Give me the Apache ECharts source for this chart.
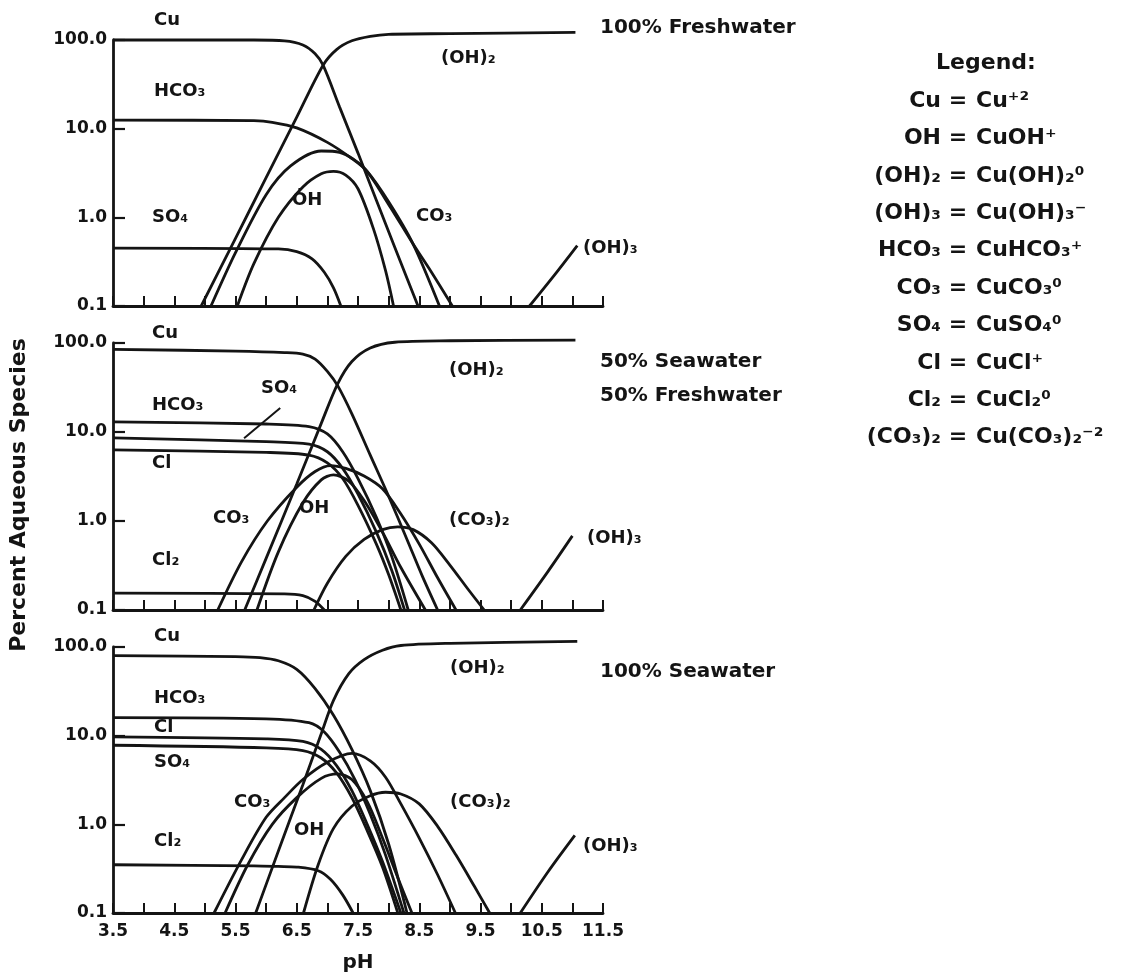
<!DOCTYPE html>
<html>
<head>
<meta charset="utf-8">
<script src="https://cdn.jsdelivr.net/npm/echarts/dist/echarts.min.js"></script>
<style>
html,body{margin:0;padding:0;background:#ffffff;}
#chart{width:1123px;height:979px;}
</style>
</head>
<body>
<div id="chart"></div>
<script>
// ---------- tick labels ----------
const X_LABELS = ['3.5','4.5','5.5','6.5','7.5','8.5','9.5','10.5','11.5'];
const Y_LABELS = ['0.1','1.0','10.0','100.0'];

// ---------- Panel 1: 100% Freshwater  [pH, percent] ----------
const FW_CU   = [[3.5,100],[5.8,100],[6.3,98],[6.6,88],[6.8,70],[6.93,52],[7.2,17.5],[7.5,5.3],[7.8,1.56],[8.1,0.46],[8.48,0.1]];
const FW_OH2  = [[4.94,0.1],[5.5,0.58],[6.0,2.8],[6.5,13.5],[6.93,52],[7.15,78],[7.4,98],[7.7,110],[8.0,116],[9.0,118],[11.05,122]];
const FW_HCO3 = [[3.5,12.5],[5.8,12.3],[6.1,11.8],[6.5,10.2],[7.0,7],[7.4,4.6],[7.65,3.3],[8.0,1.5],[8.4,0.5],[8.83,0.1]];
const FW_CO3  = [[5.1,0.1],[5.5,0.4],[6.0,1.8],[6.4,3.8],[6.9,5.6],[7.2,5.4],[7.6,3.6],[8.0,1.4],[8.4,0.5],[8.7,0.24],[9.04,0.1]];
const FW_OH   = [[5.53,0.1],[5.8,0.3],[6.2,1.0],[6.6,2.2],[6.9,3.1],[7.1,3.3],[7.3,3.0],[7.5,2.1],[7.75,0.75],[7.95,0.25],[8.08,0.1]];
const FW_SO4  = [[3.5,0.45],[6.2,0.44],[6.5,0.41],[6.75,0.34],[6.95,0.24],[7.1,0.16],[7.22,0.1]];
const FW_OH3  = [[10.3,0.1],[10.7,0.22],[11.08,0.48]];

// ---------- Panel 2: 50% Seawater / 50% Freshwater ----------
const MX_CU   = [[3.5,85],[5.5,81],[6.3,78],[6.6,75],[6.8,66],[7.0,48],[7.17,33],[7.4,16],[7.7,5.5],[8.0,1.9],[8.3,0.62],[8.55,0.24],[8.8,0.1]];
const MX_OH2  = [[5.65,0.1],[6.0,0.38],[6.5,2.6],[6.9,12.5],[7.17,35],[7.4,62],[7.7,88],[8.1,102],[9.0,106],[11.05,108]];
const MX_HCO3 = [[3.5,13],[6.0,12.3],[6.7,11.5],[7.0,9.5],[7.25,6],[7.5,3],[7.8,1.1],[8.05,0.4],[8.32,0.1]];
const MX_SO4  = [[3.5,8.6],[6.0,7.8],[6.7,7.3],[7.0,6],[7.25,3.9],[7.5,2],[7.8,0.75],[8.05,0.28],[8.26,0.1]];
const MX_CL   = [[3.5,6.3],[6.0,5.9],[6.7,5.5],[7.0,4.5],[7.25,3.0],[7.5,1.5],[7.8,0.55],[8.0,0.25],[8.2,0.1]];
const MX_CO3  = [[5.21,0.1],[5.6,0.35],[6.02,1.0],[6.5,2.4],[6.8,3.6],[7.05,4.2],[7.3,3.9],[7.6,3.2],[7.9,2.3],[8.2,1.2],[8.5,0.55],[8.8,0.23],[9.1,0.1]];
const MX_OH   = [[5.85,0.1],[6.2,0.45],[6.6,1.6],[6.9,2.9],[7.1,3.3],[7.35,2.8],[7.6,1.7],[7.9,0.75],[8.2,0.3],[8.6,0.1]];
const MX_CL2  = [[3.5,0.155],[6.3,0.152],[6.6,0.145],[6.8,0.125],[6.95,0.1]];
const MX_CO32 = [[6.78,0.1],[7.0,0.2],[7.3,0.4],[7.6,0.62],[7.9,0.8],[8.15,0.86],[8.4,0.8],[8.7,0.57],[9.0,0.32],[9.3,0.17],[9.56,0.1]];
const MX_OH3  = [[10.15,0.1],[10.6,0.27],[11.0,0.68]];

// ---------- Panel 3: 100% Seawater ----------
const SW_CU   = [[3.5,80],[5.5,78],[5.9,76],[6.2,70],[6.5,56],[6.8,34],[7.1,17],[7.4,7],[7.7,2.4],[8.0,0.6],[8.3,0.1]];
const SW_OH2  = [[5.83,0.1],[6.2,0.5],[6.6,2.8],[6.9,10.5],[7.1,25],[7.35,50],[7.6,72],[7.9,92],[8.2,104],[9.0,110],[11.08,116]];
const SW_HCO3 = [[3.5,16],[6.0,15.5],[6.7,14],[6.95,11],[7.2,6.5],[7.45,3.2],[7.7,1.3],[7.95,0.45],[8.25,0.1]];
const SW_CL   = [[3.5,9.7],[6.0,9.2],[6.6,8.6],[6.9,7],[7.15,4.6],[7.4,2.4],[7.65,1.0],[7.9,0.38],[8.2,0.1]];
const SW_SO4  = [[3.5,7.8],[6.0,7.3],[6.6,6.8],[6.9,5.6],[7.15,3.8],[7.4,2.0],[7.65,0.85],[7.9,0.33],[8.15,0.1]];
const SW_CO3  = [[5.15,0.1],[5.6,0.4],[6.0,1.2],[6.3,2.0],[6.6,3.2],[7.0,5.0],[7.4,6.3],[7.7,5.2],[7.95,3.4],[8.2,1.7],[8.5,0.7],[8.8,0.27],[9.09,0.1]];
const SW_OH   = [[5.33,0.1],[5.7,0.35],[6.1,1.0],[6.5,2.0],[6.9,3.3],[7.17,3.7],[7.4,3.2],[7.65,1.8],[7.9,0.7],[8.15,0.25],[8.38,0.1]];
const SW_CL2  = [[3.5,0.35],[5.8,0.34],[6.2,0.335],[6.5,0.33],[6.85,0.3],[7.05,0.24],[7.25,0.16],[7.42,0.1]];
const SW_CO32 = [[6.61,0.1],[6.85,0.35],[7.1,0.9],[7.4,1.6],[7.7,2.1],[7.95,2.3],[8.2,2.2],[8.5,1.7],[8.8,0.95],[9.1,0.45],[9.4,0.2],[9.65,0.1]];
const SW_OH3  = [[10.15,0.1],[10.6,0.29],[11.04,0.75]];

// leader line pointing to SO4 in panel 2 (data coords)
const MX_SO4_LEADER = [[6.23,18.6],[5.64,8.5]];

// ---------- legend text ----------
const LEGEND_LEFT  = ['Cu','OH','(OH)₂','(OH)₃','HCO₃','CO₃','SO₄','Cl','Cl₂','(CO₃)₂'];
const LEGEND_RIGHT = ['Cu⁺²','CuOH⁺','Cu(OH)₂⁰','Cu(OH)₃⁻','CuHCO₃⁺','CuCO₃⁰','CuSO₄⁰','CuCl⁺','CuCl₂⁰','Cu(CO₃)₂⁻²'];

const PANELS = [
  [FW_CU, FW_OH2, FW_HCO3, FW_CO3, FW_OH, FW_SO4, FW_OH3],
  [MX_CU, MX_OH2, MX_HCO3, MX_SO4, MX_CL, MX_CO3, MX_OH, MX_CL2, MX_CO32, MX_OH3],
  [SW_CU, SW_OH2, SW_HCO3, SW_CL, SW_SO4, SW_CO3, SW_OH, SW_CL2, SW_CO32, SW_OH3]
];

// ---------- layout / style ----------
const FONT = 'DejaVu Sans';
const INK = '#141414';
const GRID_BOXES = [
  {top: 40,  height: 266},
  {top: 343, height: 267},
  {top: 647, height: 266}
];
const PLOT_LEFT = 113, PLOT_WIDTH = 490;

const chart = echarts.init(document.getElementById('chart'), null, {renderer: 'canvas'});

const grids = GRID_BOXES.map(g => ({
  left: PLOT_LEFT, width: PLOT_WIDTH, top: g.top, height: g.height,
  containLabel: false, outerBoundsMode: 'none'
}));

const xAxes = GRID_BOXES.map((g, i) => ({
  type: 'value', gridIndex: i, min: 3.5, max: 11.5, interval: 0.5,
  axisLine: {show: true, lineStyle: {color: INK, width: 2.8}},
  axisTick: {show: true, inside: true, length: 10, lineStyle: {color: INK, width: 2}},
  splitLine: {show: false},
  axisLabel: {
    show: i === 2, margin: 10, color: INK, fontFamily: FONT, fontWeight: 'bold', fontSize: 17,
    formatter: v => { const s = (Math.round(v * 10) / 10).toFixed(1); return X_LABELS.indexOf(s) >= 0 ? s : ''; }
  },
  name: i === 2 ? 'pH' : '', nameLocation: 'middle', nameGap: 40,
  nameTextStyle: {color: INK, fontFamily: FONT, fontWeight: 'bold', fontSize: 20}
}));

const yAxes = GRID_BOXES.map((g, i) => ({
  type: 'log', logBase: 10, gridIndex: i, min: 0.1, max: 100,
  axisLine: {show: true, lineStyle: {color: INK, width: 2.8}},
  axisTick: {show: true, inside: true, length: 12, lineStyle: {color: INK, width: 2.2}},
  splitLine: {show: false},
  minorTick: {show: false},
  axisLabel: {
    show: true, margin: 6, color: INK, fontFamily: FONT, fontWeight: 'bold', fontSize: 17,
    formatter: v => { const p = Math.round(Math.log10(v)) + 1; return Y_LABELS[p] || ''; }
  }
}));

const series = [];
PANELS.forEach((curves, i) => {
  curves.forEach(d => {
    const s = {
      type: 'line', xAxisIndex: i, yAxisIndex: i, data: d,
      symbol: 'none', showSymbol: false, smooth: 0.3, clip: false,
      lineStyle: {color: INK, width: 2.8}, silent: true, animation: false
    };
    if (d === MX_SO4) {
      s.markLine = {
        silent: true, symbol: ['none', 'none'], animation: false,
        label: {show: false},
        lineStyle: {color: INK, width: 2, type: 'solid'},
        data: [[{coord: MX_SO4_LEADER[0]}, {coord: MX_SO4_LEADER[1]}]]
      };
    }
    series.push(s);
  });
});

// ---------- annotation text (positions in px) ----------
const ANNOT = [
  ['Cu',154,20], ['HCO₃',154,91], ['SO₄',152,217], ['ȮH',292,200], ['CO₃',416,216], ['(OH)₂',441,58], ['(OH)₃',583,248],
  ['Cu',152,333], ['HCO₃',152,405], ['SO₄',261,388], ['Cl',152,463], ['CO₃',213,518], ['OH',299,508], ['Cl₂',152,560], ['(OH)₂',449,370], ['(CO₃)₂',449,520], ['(OH)₃',587,538],
  ['Cu',154,636], ['HCO₃',154,698], ['Cl',154,727], ['SO₄',154,762], ['CO₃',234,802], ['OH',294,830], ['Cl₂',154,841], ['(OH)₂',450,668], ['(CO₃)₂',450,802], ['(OH)₃',583,846]
];
const TITLES = [
  ['100% Freshwater',600,28], ['50% Seawater',600,362], ['50% Freshwater',600,396], ['100% Seawater',600,672]
];

const graphic = [];
ANNOT.forEach(a => graphic.push({
  type: 'text', x: a[1], y: a[2], silent: true,
  style: {text: a[0], fill: INK, font: 'bold 18px "' + FONT + '"', textAlign: 'left', textVerticalAlign: 'middle'}
}));
TITLES.forEach(a => graphic.push({
  type: 'text', x: a[1], y: a[2], silent: true,
  style: {text: a[0], fill: INK, font: 'bold 20px "' + FONT + '"', textAlign: 'left', textVerticalAlign: 'middle'}
}));
graphic.push({
  type: 'text', x: 19, y: 495, rotation: Math.PI / 2, silent: true,
  style: {text: 'Percent Aqueous Species', fill: INK, font: 'bold 22px "' + FONT + '"', textAlign: 'center', textVerticalAlign: 'middle'}
});
graphic.push({
  type: 'text', x: 986, y: 63, silent: true,
  style: {text: 'Legend:', fill: INK, font: 'bold 22px "' + FONT + '"', textAlign: 'center', textVerticalAlign: 'middle'}
});
LEGEND_LEFT.forEach((t, k) => {
  const y = 101 + 37.4 * k;
  graphic.push({type: 'text', x: 941, y: y, silent: true,
    style: {text: t, fill: INK, font: 'bold 22px "' + FONT + '"', textAlign: 'right', textVerticalAlign: 'middle'}});
  graphic.push({type: 'text', x: 958, y: y, silent: true,
    style: {text: '=', fill: INK, font: 'bold 22px "' + FONT + '"', textAlign: 'center', textVerticalAlign: 'middle'}});
  graphic.push({type: 'text', x: 976, y: y, silent: true,
    style: {text: LEGEND_RIGHT[k], fill: INK, font: 'bold 22px "' + FONT + '"', textAlign: 'left', textVerticalAlign: 'middle'}});
});

chart.setOption({
  animation: false,
  backgroundColor: '#ffffff',
  grid: grids,
  xAxis: xAxes,
  yAxis: yAxes,
  series: series,
  graphic: graphic
});
</script>
</body>
</html>
